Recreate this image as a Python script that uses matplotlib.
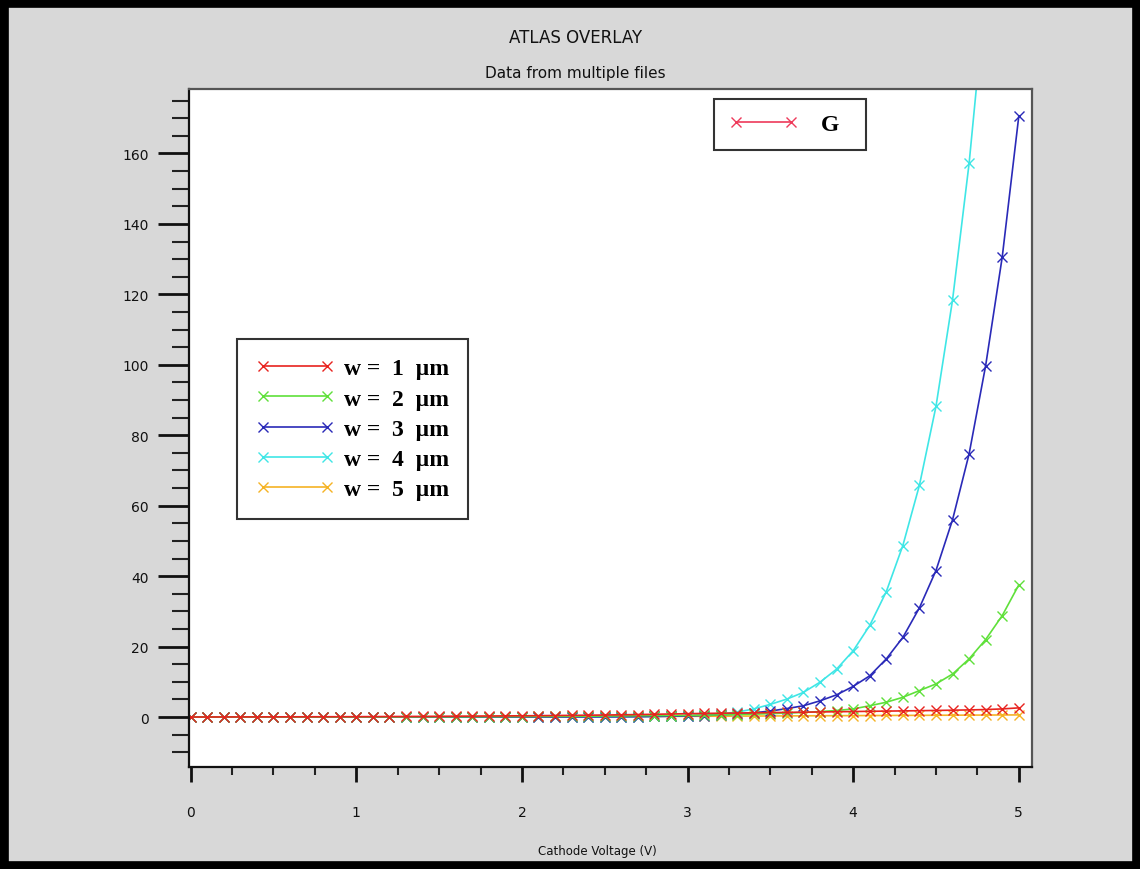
import matplotlib
matplotlib.use("Agg")
import matplotlib.pyplot as plt
from matplotlib.lines import Line2D
from matplotlib.patches import Rectangle
from matplotlib.ticker import MultipleLocator

# cathode voltage sweep (V)
voltage = [0.0, 0.1, 0.2, 0.3, 0.4, 0.5, 0.6, 0.7, 0.8, 0.9,
           1.0, 1.1, 1.2, 1.3, 1.4, 1.5, 1.6, 1.7, 1.8, 1.9,
           2.0, 2.1, 2.2, 2.3, 2.4, 2.5, 2.6, 2.7, 2.8, 2.9,
           3.0, 3.1, 3.2, 3.3, 3.4, 3.5, 3.6, 3.7, 3.8, 3.9,
           4.0, 4.1, 4.2, 4.3, 4.4, 4.5, 4.6, 4.7, 4.8, 4.9,
           5.0]

# G for each width
g_w1 = [0.00, 0.01, 0.02, 0.03, 0.04, 0.05, 0.06, 0.07, 0.08, 0.09,
        0.10, 0.12, 0.14, 0.16, 0.18, 0.20, 0.23, 0.26, 0.29, 0.32,
        0.35, 0.39, 0.43, 0.47, 0.52, 0.57, 0.63, 0.70, 0.78, 0.86,
        0.95, 1.02, 1.08, 1.14, 1.20, 1.26, 1.32, 1.38, 1.44, 1.50,
        1.56, 1.62, 1.68, 1.74, 1.80, 1.87, 1.94, 2.02, 2.12, 2.30,
        2.60]
g_w2 = [0.00, 0.00, 0.00, 0.01, 0.01, 0.01, 0.02, 0.02, 0.02, 0.03,
        0.03, 0.04, 0.04, 0.05, 0.06, 0.07, 0.08, 0.09, 0.10, 0.12,
        0.14, 0.16, 0.18, 0.21, 0.24, 0.28, 0.32, 0.37, 0.40, 0.42,
        0.45, 0.52, 0.60, 0.70, 0.82, 0.96, 1.12, 1.32, 1.55, 1.85,
        2.30, 3.20, 4.20, 5.60, 7.50, 9.40, 12.2, 16.5, 22.0, 28.8,
        37.5]
g_w3 = [0.00, 0.00, 0.00, 0.00, 0.00, 0.00, 0.00, 0.00, 0.00, 0.00,
        0.00, 0.00, 0.00, 0.00, 0.00, 0.01, 0.01, 0.01, 0.01, 0.01,
        0.01, 0.02, 0.02, 0.03, 0.04, 0.05, 0.07, 0.10, 0.15, 0.21,
        0.30, 0.42, 0.60, 0.85, 1.20, 1.70, 2.40, 3.20, 4.60, 6.30,
        8.70, 11.7, 16.5, 22.6, 31.0, 41.6, 56.0, 74.7, 99.8, 130.6,
        170.6]
g_w4 = [0.00, 0.00, 0.00, 0.00, 0.00, 0.00, 0.00, 0.00, 0.00, 0.00,
        0.00, 0.00, 0.00, 0.00, 0.00, 0.00, 0.00, 0.00, 0.01, 0.01,
        0.01, 0.01, 0.02, 0.03, 0.04, 0.05, 0.08, 0.12, 0.18, 0.27,
        0.40, 0.60, 0.90, 1.40, 2.30, 3.60, 5.10, 7.00, 9.90, 13.6,
        18.8, 26.0, 35.6, 48.7, 65.8, 88.2, 118.4, 157.2, 206.0, 268.0,
        345.0]
g_w5 = [0.00, 0.00, 0.00, 0.00, 0.00, 0.00, 0.00, 0.00, 0.00, 0.00,
        0.01, 0.01, 0.01, 0.02, 0.02, 0.02, 0.03, 0.03, 0.04, 0.04,
        0.05, 0.06, 0.07, 0.08, 0.09, 0.10, 0.12, 0.14, 0.16, 0.18,
        0.20, 0.22, 0.24, 0.26, 0.28, 0.30, 0.32, 0.34, 0.36, 0.38,
        0.40, 0.42, 0.44, 0.46, 0.48, 0.50, 0.52, 0.54, 0.56, 0.58,
        0.60]

widths = [1, 2, 3, 4, 5]
series = [g_w1, g_w2, g_w3, g_w4, g_w5]
colors = ["#e8231f", "#5fe03a", "#2a2ab8", "#3fe6e6", "#f5b324"]
labels = [f"w =  {w}  \u00b5m" for w in widths]

BG = "#d8d8d8"
SERIF = "Liberation Serif"

fig = plt.figure(figsize=(11.4, 8.7), dpi=100, facecolor=BG)
fig.patches.append(Rectangle((0, 0), 1, 1, transform=fig.transFigure,
                             fill=False, edgecolor="black", lw=12))
ax = fig.add_axes([0.1658, 0.1172, 0.7395, 0.7793])
ax.set_facecolor("white")

# draw so the red curve ends up on top near zero
handles = {}
for i in [4, 3, 2, 1, 0]:
    (ln,) = ax.plot(voltage, series[i], color=colors[i], lw=1.2,
                    marker="x", ms=6.5, mew=1.0)
    handles[i] = ln

ax.set_xlim(-0.01, 5.08)
ax.set_ylim(-14.2, 178.3)
ax.xaxis.set_major_locator(MultipleLocator(1))
ax.xaxis.set_minor_locator(MultipleLocator(0.25))
ax.yaxis.set_major_locator(MultipleLocator(20))
ax.yaxis.set_minor_locator(MultipleLocator(5))

ax.tick_params(axis="y", which="major", direction="out", length=22,
               width=2.0, pad=7, labelsize=10, colors="#111111")
ax.tick_params(axis="y", which="minor", direction="out", length=12,
               width=1.5, colors="#222222")
ax.tick_params(axis="x", which="major", direction="out", length=11,
               width=2.0, pad=16, labelsize=10, colors="#111111")
ax.tick_params(axis="x", which="minor", direction="out", length=6,
               width=1.5, colors="#222222")
for side in ("left", "bottom"):
    ax.spines[side].set_linewidth(1.6)
    ax.spines[side].set_color("#111111")
for side in ("top", "right"):
    ax.spines[side].set_linewidth(1.6)
    ax.spines[side].set_color("#555555")

fig.text(0.505, 0.956, "ATLAS OVERLAY", ha="center", va="center",
         fontsize=12, color="#111111")
fig.text(0.505, 0.916, "Data from multiple files", ha="center", va="center",
         fontsize=11, color="#111111")
fig.text(0.524, 0.021, "Cathode Voltage (V)", ha="center", va="center",
         fontsize=8.5, color="#111111")

leg_font = {"family": SERIF, "weight": "bold", "size": 17}
leg1 = ax.legend([handles[i] for i in range(5)], labels,
                 loc="upper left", bbox_to_anchor=(0.2079, 0.6092),
                 bbox_transform=fig.transFigure, borderaxespad=0,
                 prop=leg_font, numpoints=2, handlelength=3.3,
                 handletextpad=0.45, labelspacing=0.37, borderpad=0.8,
                 fancybox=False, framealpha=1, edgecolor="#333333")
leg1.get_frame().set_linewidth(1.5)
ax.add_artist(leg1)

g_proxy = Line2D([], [], color="#ee3a5a", lw=1.2, marker="x", ms=6.5, mew=1.0)
leg2 = ax.legend([g_proxy], ["G  "], loc="upper left",
                 bbox_to_anchor=(0.6263, 0.8851),
                 bbox_transform=fig.transFigure, borderaxespad=0,
                 prop=leg_font, numpoints=2, handlelength=2.93,
                 handletextpad=1.0, borderpad=0.62,
                 fancybox=False, framealpha=1, edgecolor="#333333")
leg2.get_frame().set_linewidth(1.5)

fig.savefig("out.png", dpi=100, facecolor=BG)
